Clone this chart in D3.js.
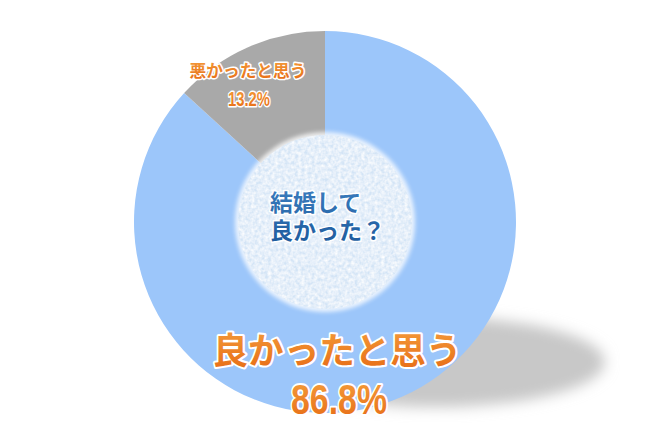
<!DOCTYPE html>
<html>
<head>
<meta charset="utf-8">
<script src="https://d3js.org/d3.v7.min.js"></script>
<style>
  body { margin: 0; background: #fff; }
  text { font-family: "Noto Sans CJK JP", sans-serif; }
</style>
</head>
<body>
<svg id="chart" width="650" height="448"></svg>
<script>
// data
var categories = ["良かったと思う", "悪かったと思う"];
var values = [86.8, 13.2];
var colors = ["#9cc6fa", "#a9a9a9"];
var centerTitle = ["結婚して", "良かった？"];

var width = 650, height = 448;
var cx = 325, cy = 222, radius = 191;

var svg = d3.select("#chart");
var defs = svg.append("defs");

// soft shadow under the pie
defs.append("filter").attr("id", "blur")
  .attr("x", "-20%").attr("y", "-50%").attr("width", "140%").attr("height", "200%")
  .append("feGaussianBlur").attr("stdDeviation", 7);

// orange gradient for the labels
var og = defs.append("linearGradient").attr("id", "orange")
  .attr("x1", 0).attr("y1", 0).attr("x2", 0).attr("y2", 1);
og.append("stop").attr("offset", "0%").attr("stop-color", "#f5a03e");
og.append("stop").attr("offset", "100%").attr("stop-color", "#e66a14");

var bg = defs.append("linearGradient").attr("id", "navy")
  .attr("x1", 0).attr("y1", 0).attr("x2", 0).attr("y2", 1);
bg.append("stop").attr("offset", "0%").attr("stop-color", "#3c7ec0");
bg.append("stop").attr("offset", "100%").attr("stop-color", "#1d5a9c");

// speckled texture for the center disc
var tex = defs.append("filter").attr("id", "texture");
tex.append("feTurbulence").attr("type", "fractalNoise")
  .attr("baseFrequency", 0.3).attr("numOctaves", 2).attr("result", "noise");
tex.append("feColorMatrix").attr("in", "noise").attr("type", "matrix")
  .attr("values", "0 0 0 0 1  0 0 0 0 1  0 0 0 0 1  0 0 0 -1.5 1.15").attr("result", "spots");
tex.append("feComposite").attr("in", "spots").attr("in2", "SourceGraphic")
  .attr("operator", "in").attr("result", "spotsIn");
tex.append("feMerge").selectAll("feMergeNode")
  .data(["SourceGraphic", "spotsIn"]).enter()
  .append("feMergeNode").attr("in", function(d) { return d; });

var glow = defs.append("filter").attr("id", "glow")
  .attr("x", "-10%").attr("y", "-10%").attr("width", "120%").attr("height", "120%");
glow.append("feGaussianBlur").attr("stdDeviation", 2);

svg.append("ellipse")
  .attr("cx", 435).attr("cy", 362)
  .attr("rx", 170).attr("ry", 45)
  .attr("fill", "#c8c8c8")
  .attr("filter", "url(#blur)");

var g = svg.append("g").attr("transform", "translate(" + cx + "," + cy + ")");

var pie = d3.pie().sort(null).value(function(d) { return d; });
var arc = d3.arc().innerRadius(0).outerRadius(radius);

g.selectAll("path.slice")
  .data(pie(values))
  .enter()
  .append("path")
  .attr("class", "slice")
  .attr("d", arc)
  .attr("fill", function(d, i) { return colors[i]; });

// center disc
g.append("circle").attr("r", 90).attr("fill", "#ffffff").attr("opacity", 0.8)
  .attr("filter", "url(#glow)");
g.append("circle").attr("r", 87).attr("fill", "#d3e4f6").attr("filter", "url(#texture)");

var title = g.append("text")
  .attr("x", -55).attr("y", -11)
  .attr("font-size", 23).attr("font-weight", 700)
  .attr("fill", "url(#navy)")
  .attr("stroke", "#ffffff").attr("stroke-width", 3)
  .attr("paint-order", "stroke");
title.selectAll("tspan").data(centerTitle).enter().append("tspan")
  .attr("x", -55).attr("dy", function(d, i) { return i ? 28 : 0; })
  .text(function(d) { return d; });

// labels
function label(txt, x, y, size, len, font) {
  var t = svg.append("text")
    .attr("x", x).attr("y", y)
    .attr("text-anchor", "middle")
    .attr("font-size", size).attr("font-weight", 700)
    .attr("fill", "url(#orange)")
    .attr("stroke", "#ffffff").attr("stroke-width", size > 25 ? 4 : 3)
    .attr("stroke-linejoin", "round")
    .attr("paint-order", "stroke")
    .text(txt);
  if (font) t.style("font-family", font);
  if (len) t.attr("textLength", len).attr("lengthAdjust", "spacingAndGlyphs");
  return t;
}

label(categories[0], 337, 364, 36, 249);
label(values[0].toFixed(1) + "%", 339, 414, 42, 96, "'Liberation Sans', sans-serif");
label(categories[1], 248, 77, 17, 117);
label(values[1].toFixed(1) + "%", 249, 106, 21, 42, "'Liberation Sans', sans-serif");
</script>
</body>
</html>
